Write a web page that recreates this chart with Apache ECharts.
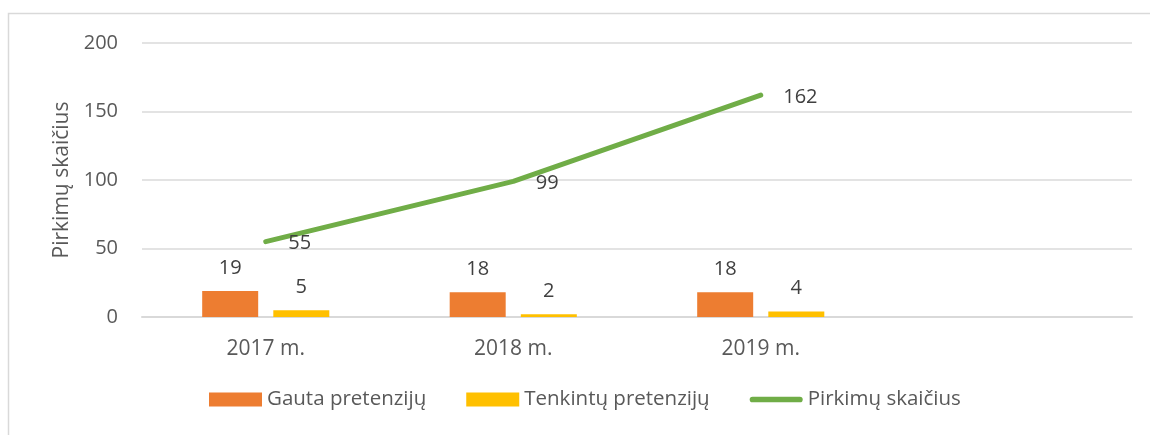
<!DOCTYPE html>
<html lang="lt">
<head>
<meta charset="UTF-8">
<title>Pirkimų skaičius</title>
<script src="https://cdn.jsdelivr.net/npm/echarts@6/dist/echarts.min.js"></script>
<style>
  html, body { margin: 0; padding: 0; background: #fff; }
  #chart { width: 1150px; height: 435px; }
</style>
</head>
<body>
<div id="chart"></div>
<script>
// duomenys
var categories = ['2017 m.', '2018 m.', '2019 m.', ''];
var gauta = [19, 18, 18, null];
var tenkintu = [5, 2, 4, null];
var pirkimai = [55, 99, 162, null];
var yTicks = { min: 0, max: 200, interval: 50 };

var txt = '#595959';
var lbl = '#404040';
var font = '"Open Sans", "Noto Sans", sans-serif';

var chart = echarts.init(document.getElementById('chart'));

var option = {
    animation: false,
    textStyle: { fontFamily: font },
    graphic: [{
        type: 'polyline',
        shape: { points: [[8.5, 440], [8.5, 13.5], [1160, 13.5]] },
        style: { stroke: '#d9d9d9', lineWidth: 1.5, fill: null },
        silent: true
    }],
    grid: { left: 142, right: 18, top: 43, bottom: 118 },
    legend: {
        bottom: 20,
        left: 204,
        itemGap: 40,
        itemWidth: 53,
        itemHeight: 14,
        textStyle: { color: txt, fontSize: 20.5, fontFamily: font },
        data: [
            { name: 'Gauta pretenzijų', icon: 'rect' },
            { name: 'Tenkintų pretenzijų', icon: 'rect' },
            {
                name: 'Pirkimų skaičius',
                icon: 'path://M3,0 L53,0 A3,3 0 0 1 53,6 L3,6 A3,3 0 0 1 3,0 Z',
                itemStyle: { color: '#70ad47' }
            }
        ]
    },
    xAxis: {
        type: 'category',
        data: categories,
        axisLine: { lineStyle: { color: '#d9d9d9', width: 2 } },
        axisTick: { show: false },
        axisLabel: { color: txt, fontSize: 21, margin: 22, fontFamily: font }
    },
    yAxis: {
        type: 'value',
        min: yTicks.min,
        max: yTicks.max,
        interval: yTicks.interval,
        name: 'Pirkimų skaičius',
        nameLocation: 'middle',
        nameGap: 58,
        nameTextStyle: { color: txt, fontSize: 21, fontFamily: font },
        axisLine: { show: false },
        axisTick: { show: false },
        axisLabel: { color: txt, fontSize: 20, margin: 24, fontFamily: font },
        splitLine: { lineStyle: { color: '#e3e3e3', width: 2 } }
    },
    series: [{
        name: 'Gauta pretenzijų',
        type: 'bar',
        data: gauta,
        barWidth: 56,
        barGap: '27%',
        itemStyle: { color: '#ed7d31' },
        label: { show: true, position: 'top', distance: 13, color: lbl, fontSize: 20, fontFamily: font }
    }, {
        name: 'Tenkintų pretenzijų',
        type: 'bar',
        data: tenkintu,
        barWidth: 56,
        barGap: '27%',
        itemStyle: { color: '#ffc000' },
        label: { show: true, position: 'top', distance: 13, color: lbl, fontSize: 20, fontFamily: font }
    }, {
        name: 'Pirkimų skaičius',
        type: 'line',
        data: pirkimai,
        symbol: 'circle',
        symbolSize: 1,
        showSymbol: true,
        lineStyle: { color: '#70ad47', width: 5, cap: 'round' },
        itemStyle: { color: '#70ad47' },
        label: { show: true, position: 'right', distance: 22, offset: [0, 2], color: lbl, fontSize: 20, fontFamily: font }
    }]
};

chart.setOption(option);
</script>
</body>
</html>
